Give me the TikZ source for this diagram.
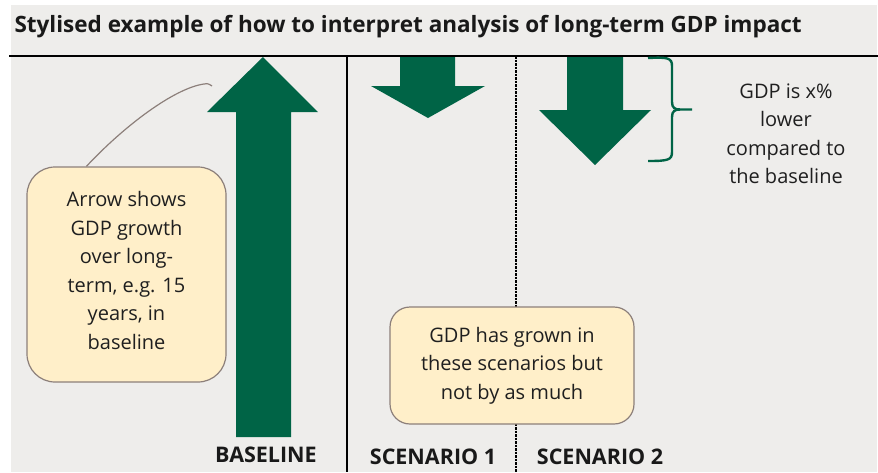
\documentclass[tikz,border=0pt]{standalone}
\usepackage{fontspec}
\setmainfont{Open Sans}
\usetikzlibrary{calc}
\definecolor{panelbg}{HTML}{EEEDEB}
\definecolor{gdpgreen}{HTML}{006446}
\definecolor{notefill}{HTML}{FFEFC9}
\definecolor{noteedge}{HTML}{8C7F7A}
\begin{document}
\begin{tikzpicture}[x=1pt,y=-1pt,
  bodytext/.style={font=\fontsize{20}{28.5}\selectfont, align=center, text=black!88},
  note/.style={bodytext, fill=notefill, draw=noteedge, line width=1.2pt, inner sep=0pt},
  scenlabel/.style={font=\bfseries\fontsize{21.5}{24}\selectfont, text=black!90},
  gdparrow/.style={fill=gdpgreen},
  divider/.style={line width=1.5pt, black}]
\useasboundingbox (0,0) rectangle (878,472);
\fill[white] (0,0) rectangle (878,472);
\fill[panelbg] (11,5) rectangle (877,472);

% title and top rule
\node[anchor=west, font=\bfseries\fontsize{22.5}{26}\selectfont, text=black!90] (title) at (11,27)
  {Stylised example of how to interpret analysis of long-term GDP impact};
\draw[line width=2.5pt] (9,56) -- (878,56);

% column dividers
\draw[divider] (347,56) -- (347,472);
\draw[line width=2pt, black, dash pattern=on 2.5pt off 1pt] (516,56) -- (516,472);

% baseline growth arrow
\fill[gdparrow] (236,437) -- (291,437) -- (291,112) -- (318,112) -- (263,57)
  -- (207,112) -- (236,112) -- cycle;
% scenario arrows
\fill[gdparrow] (400,57) -- (455,57) -- (455,86) -- (485,86) -- (428,118)
  -- (371,86) -- (400,86) -- cycle;
\fill[gdparrow] (567,57) -- (623,57) -- (623,110) -- (651,110) -- (595,165)
  -- (539,110) -- (567,110) -- cycle;

% brace marking the gap
\draw[gdpgreen, line width=2.4pt]
  (648,58) .. controls (668,57) and (672,58) .. (672,66) -- (672,102)
  .. controls (672,108) and (675,109.5) .. (680,109.5) -- (692,109.5);
\draw[gdpgreen, line width=2.4pt]
  (680,109.5) .. controls (675,109.5) and (672,111) .. (672,117) -- (672,152)
  .. controls (672,160) and (668,161) .. (648,161);
\node[bodytext] (gaptext) at (786,134) {GDP is x\%\\lower\\compared to\\the baseline};

% explanatory notes
\node[note, rounded corners=28pt, minimum width=199pt, minimum height=215pt]
  (leftnote) at (126.5,274.5)
  {Arrow shows\\GDP growth\\over long-\\term, e.g. 15\\years, in\\baseline\\[-20pt]\mbox{}};
\coordinate (calloutend) at (212,86);
\draw[noteedge, line width=1.2pt] ($(leftnote.north west)+(60,0)$)
  .. controls (125,125) and (175,88) .. (204,84)
  .. controls (208,83.5) .. (calloutend);

\node[note, rounded corners=20pt, minimum width=244pt, minimum height=117pt]
  (midnote) at (512,365.5)
  {GDP has grown in\\these scenarios but\\not by as much};

% column labels
\node[scenlabel] (baselbl) at (266,455) {BASELINE};
\node[scenlabel] (scen1lbl) at (433,457) {SCENARIO 1};
\node[scenlabel] (scen2lbl) at (600,457) {SCENARIO 2};
\end{tikzpicture}
\end{document}
